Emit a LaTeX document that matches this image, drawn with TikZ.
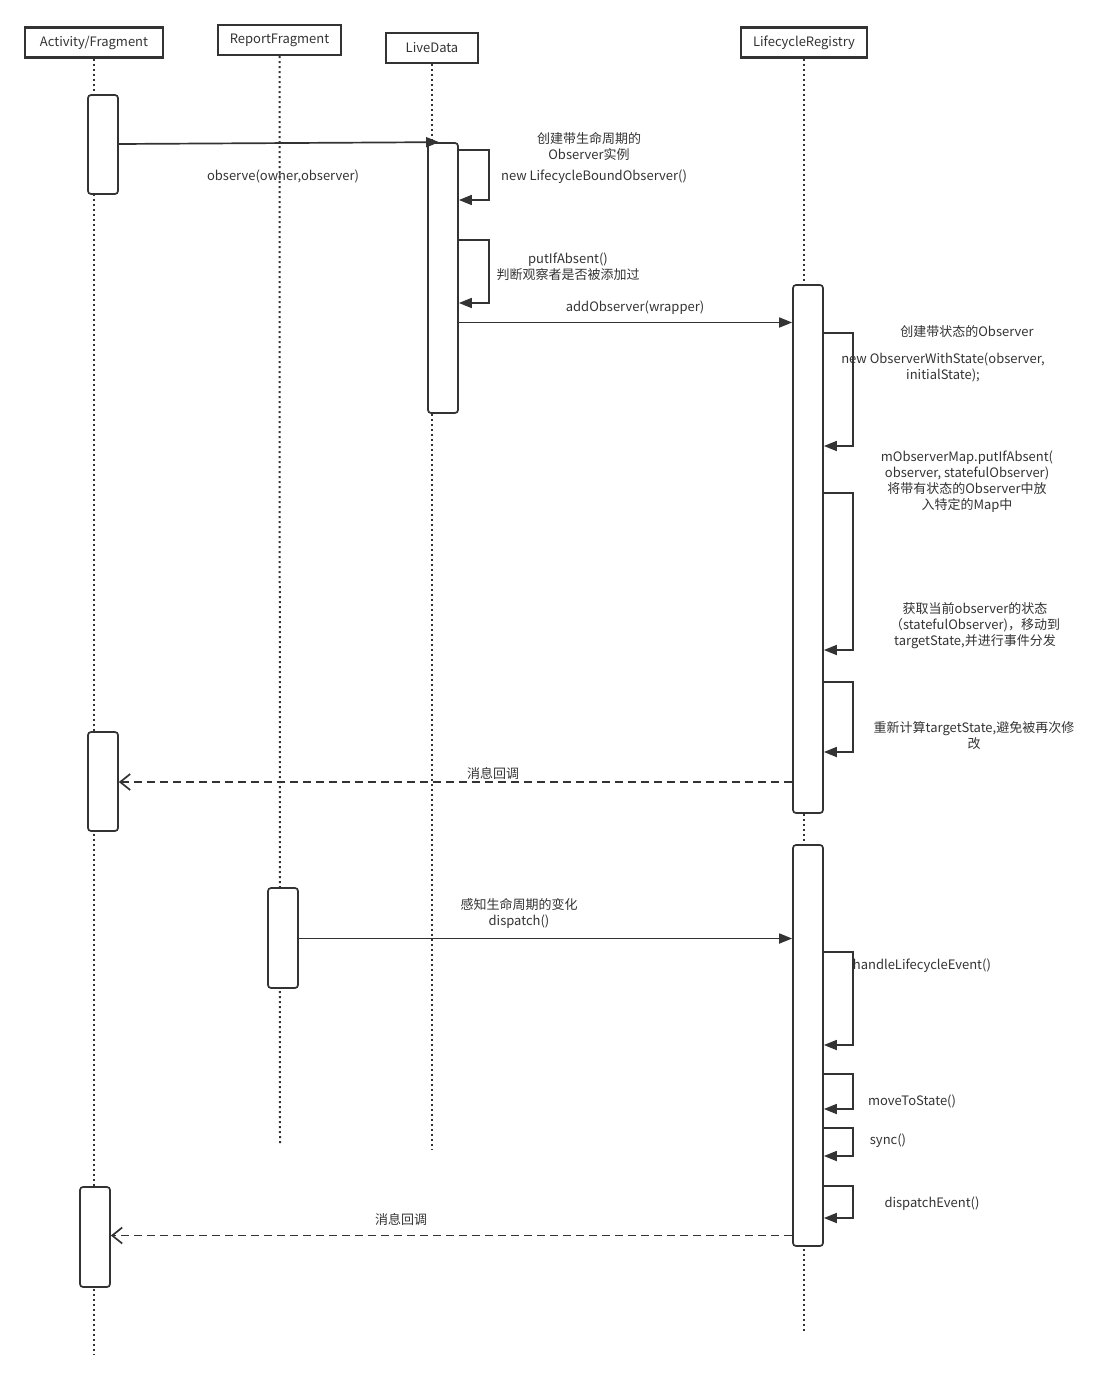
\documentclass[tikz,border=0pt]{standalone}
\usepackage{fontspec}
\setmainfont{Noto Sans CJK SC}
\usetikzlibrary{arrows.meta}
\definecolor{ink}{HTML}{333333}

\begin{document}
\begin{tikzpicture}[x=1pt, y=-1pt, ink, line width=1.7pt,
    font=\fontsize{13}{16}\selectfont,
    head/.style = {draw, line width=2.4pt, minimum height=30, inner sep=0pt},
    act/.style = {draw, fill=white, rounded corners=3pt, minimum width=30, inner sep=0pt},
    life/.style = {line width=2pt, dash pattern=on 2pt off 3pt},
    call/.style = {-{Triangle[length=13pt,width=10pt]}},
    back/.style = {dash pattern=on 8pt off 5pt, -{Straight Barb[length=10pt,width=16pt]}},
    note/.style = {align=center, inner sep=0pt, yshift=-1.5pt}]
    \useasboundingbox (0,0) rectangle (1112,1381);

    % Teste delle linee di vita
    \node[head, minimum width=138] (af) at (94,42.5) {Activity/Fragment};
    \node[head, minimum width=123] (rf) at (279.5,40) {ReportFragment};
    \node[head, minimum width=92] (ld) at (432,48) {LiveData};
    \node[head, minimum width=126] (lr) at (804,42.5) {LifecycleRegistry};

    \coordinate (afend) at (94,1355);
    \coordinate (rfend) at (280,1143);
    \coordinate (ldend) at (432,1150);
    \coordinate (lrend) at (804,1332);
    \draw[life] (af) -- (afend);
    \draw[life] (rf) -- (rfend);
    \draw[life] (ld) -- (ldend);
    \draw[life] (lr) -- (lrend);

    % Barre di attivazione
    \node[act, minimum height=99] (af1) at (103,144.5) {};
    \node[act, minimum height=270] (ld1) at (443,278) {};
    \node[act, minimum height=528] (lr1) at (808,549) {};
    \node[act, minimum height=99] (af2) at (103,781.5) {};
    \node[act, minimum height=100] (rf1) at (283,938) {};
    \node[act, minimum height=401] (lr2) at (808,1045.5) {};
    \node[act, minimum height=100] (af3) at (95,1237) {};

    % observe
    \draw[call] (af1.east |- 0,144) -- ([xshift=12pt]ld1.north west);
    \node[note] (obs) at (283,175) {observe(owner,observer)};

    \draw[call] (ld1.east |- 0,150) -- ++(30,0) |- (ld1.east |- 0,200);
    \node[note] (mk) at (589,145) {创建带生命周期的\\Observer实例};
    \node[note] (mknew) at (594,175) {new LifecycleBoundObserver()};

    \draw[call] (ld1.east |- 0,240) -- ++(30,0) |- (ld1.east |- 0,303);
    \node[note] (pia) at (568,265.5) {putIfAbsent()\\判断观察者是否被添加过};

    % addObserver
    \draw[call] (ld1.east |- 0,322.5) -- (lr1.west |- 0,322.5);
    \node[note] (addo) at (635,306) {addObserver(wrapper)};

    \draw[call] (lr1.east |- 0,333) -- ++(29,0) |- (lr1.east |- 0,446);
    \node[note] (ows) at (967,330) {创建带状态的Observer};
    \node[note] (owsnew) at (943,366) {new ObserverWithState(observer,\\initialState);};

    \draw[call] (lr1.east |- 0,493) -- ++(29,0) |- (lr1.east |- 0,650);
    \node[note] (map) at (967,480.5) {mObserverMap.putIfAbsent(\\observer, statefulObserver)\\将带有状态的Observer中放\\入特定的Map中};
    \node[note] (get) at (975,624) {获取当前observer的状态\\（statefulObserver)，移动到\\targetState,并进行事件分发};

    \draw[call] (lr1.east |- 0,682) -- ++(29,0) |- (lr1.east |- 0,752);
    \node[note] (calc) at (974,734) {重新计算targetState,避免被再次修\\改};

    % ritorno
    \draw[back] (lr1.west |- 0,782) -- (af2.east |- 0,782);
    \node[note] (cb1) at (493,772) {消息回调};

    % dispatch
    \draw[call] (rf1.east |- 0,938.5) -- (lr2.west |- 0,938.5);
    \node[note] (sense) at (519,912) {感知生命周期的变化\\dispatch()};

    \draw[call] (lr2.east |- 0,952) -- ++(29,0) |- (lr2.east |- 0,1045);
    \node[note, anchor=west] (hle) at (852,964) {handleLifecycleEvent()};

    \draw[call] (lr2.east |- 0,1074) -- ++(29,0) |- (lr2.east |- 0,1109);
    \node[note] (mts) at (912,1100) {moveToState()};

    \draw[call] (lr2.east |- 0,1128) -- ++(29,0) |- (lr2.east |- 0,1156);
    \node[note] (sync) at (888,1139) {sync()};

    \draw[call] (lr2.east |- 0,1186) -- ++(29,0) |- (lr2.east |- 0,1218);
    \node[note] (dpe) at (932,1202) {dispatchEvent()};

    \draw[back] (lr2.west |- 0,1235.5) -- (af3.east |- 0,1235.5);
    \node[note] (cb2) at (401,1218) {消息回调};

\end{tikzpicture}
\end{document}
